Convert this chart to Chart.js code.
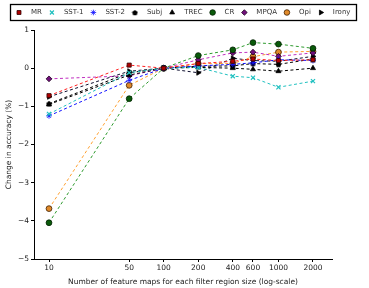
<!DOCTYPE html>
<html>
<head>
<meta charset="utf-8">
<script src="https://cdn.jsdelivr.net/npm/chart.js@4/dist/chart.umd.min.js"></script>
<style>
  html, body { margin: 0; padding: 0; background: #fff; }
  #wrap { width: 369px; height: 288px; }
</style>
</head>
<body>
<div id="wrap"><canvas id="chart" width="369" height="288"></canvas></div>
<script>
// feature map counts (x) and change in accuracy per dataset
const featureMaps = [10, 50, 100, 200, 400, 600, 1000, 2000];
const tickValues = [10, 50, 100, 200, 400, 600, 1000, 2000];
const yTicks = [1, 0, -1, -2, -3, -4, -5];

const mr    = [-0.72,  0.08, 0,  0.12,  0.18,  0.24,  0.20,  0.22];
const sst1  = [-1.20, -0.12, 0,  0.02, -0.21, -0.25, -0.50, -0.34];
const sst2  = [-1.25, -0.32, 0,  0.06,  0.10,  0.14,  0.22,  0.20];
const subj  = [-0.93, -0.12, 0,  0.05,  0.06,  0.12,  0.10,  0.24];
const trec  = [-0.95, -0.18, 0,  0.02,  0.00, -0.03, -0.08,  0.00];
const cr    = [-4.05, -0.80, 0,  0.33,  0.48,  0.67,  0.63,  0.52];
const mpqa  = [-0.28, -0.20, 0,  0.22,  0.40,  0.42,  0.31,  0.40];
const opi   = [-3.68, -0.45, 0,  0.12,  0.12,  0.30,  0.42,  0.44];
const irony = [-0.75, -0.08, 0, -0.12,  0.26,  0.20,  0.18,  0.31];

// small pentagon marker for Subj (Chart.js has no pentagon)
function pentagon(size, fill) {
  const c = document.createElement('canvas');
  c.width = size; c.height = size;
  const g = c.getContext('2d');
  const r = size / 2 - 0.5;
  g.beginPath();
  for (let i = 0; i < 5; i++) {
    const a = -Math.PI / 2 + i * 2 * Math.PI / 5;
    const px = size / 2 + r * Math.cos(a);
    const py = size / 2 + 0.4 + r * Math.sin(a);
    if (i === 0) g.moveTo(px, py); else g.lineTo(px, py);
  }
  g.closePath();
  g.fillStyle = fill;
  g.fill();
  return c;
}
const pentaMarker = pentagon(7, '#000');

function series(label, values, line, fill, edge, style, rotation) {
  return {
    label: label,
    data: featureMaps.map((x, i) => ({ x: x, y: values[i] })),
    borderColor: line,
    borderWidth: 1,
    borderDash: [3, 2.5],
    pointStyle: style,
    pointRotation: rotation || 0,
    pointRadius: 2.9,
    pointBorderWidth: style === 'crossRot' || style === 'cross' ? 1.2 : 0.8,
    pointBackgroundColor: fill,
    pointBorderColor: edge,
    fill: false,
    tension: 0
  };
}

const datasets = [
  series('MR', mr, '#ff2020', '#b00000', '#300000', 'rect'),
  series('SST-1', sst1, '#20c0c0', '#20c0c0', '#20c0c0', 'crossRot'),
  series('SST-2', sst2, '#1010ff', '#1010ff', '#1010ff', 'star'),
  series('Subj', subj, '#000000', '#000000', '#000000', pentaMarker),
  series('TREC', trec, '#000000', '#000000', '#000000', 'triangle'),
  series('CR', cr, '#2e9a2e', '#0a5a0a', '#002000', 'circle'),
  series('MPQA', mpqa, '#c030c0', '#70107a', '#200020', 'rectRot'),
  series('Opi', opi, '#ffa030', '#e08a2a', '#402000', 'circle'),
  series('Irony', irony, '#101030', '#000000', '#000000', 'triangle', 90)
];

const boxLegend = {
  id: 'boxLegend',
  afterDraw(chart) {
    const ctx = chart.ctx;
    ctx.save();
    ctx.strokeStyle = '#000';
    ctx.lineWidth = 1.3;
    ctx.strokeRect(10.5, 4.5, 346, 16);
    ctx.font = '7px "DejaVu Sans"';
    ctx.textBaseline = 'middle';
    let x = 19;
    const y = 12.5;
    chart.data.datasets.forEach(ds => {
      ctx.fillStyle = ds.pointBackgroundColor;
      ctx.strokeStyle = ds.pointBorderColor;
      ctx.lineWidth = ds.pointBorderWidth;
      Chart.helpers.drawPoint(ctx, {
        pointStyle: ds.pointStyle,
        rotation: ds.pointRotation,
        radius: 2.8,
        borderWidth: ds.pointBorderWidth
      }, x, y);
      ctx.fillStyle = '#333';
      ctx.fillText(ds.label, x + 12, y);
      x += 12 + ctx.measureText(ds.label).width + 10;
    });
    ctx.restore();
  }
};

Chart.defaults.font.family = '"DejaVu Sans", sans-serif';
Chart.defaults.font.size = 7.5;
Chart.defaults.color = '#222';

new Chart(document.getElementById('chart').getContext('2d'), {
  type: 'line',
  data: { datasets: datasets },
  options: {
    responsive: false,
    animation: false,
    layout: { padding: { top: 30, right: 37, left: 0, bottom: 0 } },
    plugins: { legend: { display: false }, tooltip: { enabled: false } },
    scales: {
      x: {
        type: 'logarithmic',
        min: 7.4,
        max: 2930,
        afterBuildTicks: scale => { scale.ticks = tickValues.map(v => ({ value: v })); },
        afterFit: scale => { scale.height = 29; },
        ticks: {
          callback: v => String(v),
          autoSkip: false,
          maxRotation: 0,
          padding: 2,
          color: '#222'
        },
        grid: { drawOnChartArea: false, drawTicks: true, tickLength: 3, color: '#000' },
        border: { display: true, color: '#000', width: 1 },
        title: {
          display: true,
          text: 'Number of feature maps for each filter region size (log-scale)',
          padding: { top: 0, bottom: 1 },
          color: '#222'
        }
      },
      y: {
        min: -5,
        max: 1,
        afterBuildTicks: scale => { scale.ticks = yTicks.map(v => ({ value: v })); },
        afterFit: scale => { scale.width = 34; },
        ticks: {
          callback: v => (v < 0 ? '\u2212' + Math.abs(v) : String(v)),
          padding: 2,
          color: '#222'
        },
        grid: { drawOnChartArea: false, drawTicks: true, tickLength: 3, color: '#000' },
        border: { display: true, color: '#000', width: 1 },
        title: {
          display: true,
          text: 'Change in accuracy (%)',
          padding: { top: 5, bottom: 0 },
          color: '#222'
        }
      }
    }
  },
  plugins: [boxLegend]
});
</script>
</body>
</html>
